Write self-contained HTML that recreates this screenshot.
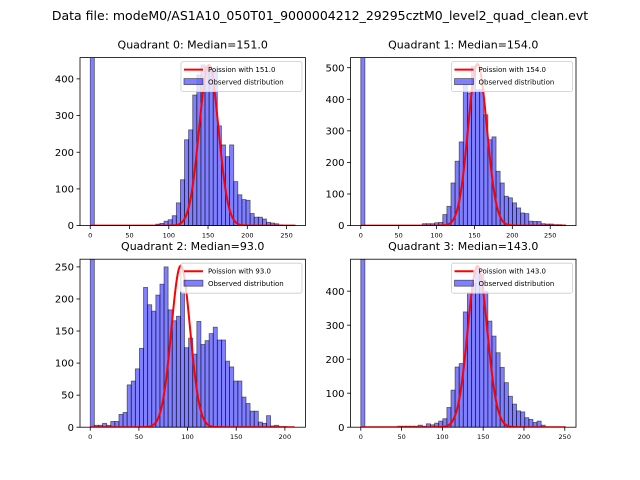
<!DOCTYPE html>
<html><head><meta charset="utf-8"><style>
body{margin:0;background:#fff;}
svg{display:block;font-family:"DejaVu Sans","Liberation Sans",sans-serif;}
</style></head><body>
<svg id="chart" width="640" height="480" viewBox="0 0 640 480">
<rect width="640" height="480" fill="#fff"/>
<text x="320" y="20" text-anchor="middle" font-size="12.5">Data file: modeM0/AS1A10_050T01_9000004212_29295cztM0_level2_quad_clean.evt</text>
</svg>
<script>
const titles=["Quadrant 0: Median=151.0","Quadrant 1: Median=154.0","Quadrant 2: Median=93.0","Quadrant 3: Median=143.0"];
const medians=[151,154,93,143];
const poissonPeaks=[438,512,252,474];
const xMaxes=[261,270.5,210.6,251.2];
const yMaxes=[458,532,262,494];
const xTicks=[[0,50,100,150,200,250],[0,50,100,150,200,250],[0,50,100,150,200],[0,50,100,150,200,250]];
const yTicks=[[0,100,200,300,400],[0,100,200,300,400,500],[0,50,100,150,200,250],[0,100,200,300,400]];
const counts0=[2000,0,0,0,0,0,0,0,0,0,0,0,0,0,0,0,4,6,12,16,27,62,125,234,261,356,411,438,433,424,424,272,220,188,220,120,84,71,69,33,23,23,18,9,7,5,2,1,1,1];
const counts1=[2000,0,0,0,0,0,0,0,0,0,0,0,0,0,0,6,6,6,9,10,35,61,135,204,265,446,420,504,430,430,351,272,281,172,135,93,88,72,56,40,38,14,13,13,6,5,5,3,3,2];
const counts2=[2000,3,3,6,3,9,9,20,23,66,72,91,123,218,191,181,206,223,250,183,166,173,211,124,139,114,165,129,135,146,156,136,136,103,94,72,72,47,37,25,25,8,6,18,2,3,1,1,0,0];
const counts3=[2000,0,0,0,0,0,0,0,0,3,3,3,3,3,6,3,10,7,12,18,25,58,109,177,187,339,395,423,470,450,399,312,268,219,176,131,91,68,48,45,28,23,14,18,6,1,0,0,0,0];
const allCounts=[counts0,counts1,counts2,counts3];

const NS="http://www.w3.org/2000/svg";
const svg=document.getElementById('chart');
function mk(tag,attrs,parent){const e=document.createElementNS(NS,tag);for(const k in attrs)e.setAttribute(k,attrs[k]);(parent||svg).appendChild(e);return e;}
const AW=225.45,AH=168;
const lefts=[80,350.55,80,350.55],tops=[57.6,57.6,259.2,259.2];

for(let q=0;q<4;q++){
  const L=lefts[q],T=tops[q],B=T+AH;
  const xmax=xMaxes[q],ymax=yMaxes[q],cnt=allCounts[q];
  const xmin=-0.05*xmax, xhi=1.05*xmax;
  const xs=v=>L+(v-xmin)/(xhi-xmin)*AW;
  const ys=v=>B-v/ymax*AH;
  const g=mk('g',{});
  
  
  const cid='clip'+q;
  const cp=mk('clipPath',{id:cid},g);mk('rect',{x:L,y:T,width:AW,height:AH},cp);
  const bars=mk('g',{'clip-path':'url(#'+cid+')'},g);
  const bw=xmax/cnt.length;
  cnt.forEach((c,i)=>{
    if(c<=0)return;
    const r=mk('rect',{x:xs(i*bw),y:ys(Math.min(c,ymax*1.1)),width:xs((i+1)*bw)-xs(i*bw),height:B-ys(Math.min(c,ymax*1.1)),fill:'rgba(0,0,255,0.5)',stroke:'rgba(0,0,0,0.55)','stroke-width':0.8},bars);
    
    
  });
  const mu=medians[q],pk=poissonPeaks[q];let d='';
  for(let x=0;x<=Math.floor(xmax);x++){const v=pk*Math.exp(-(x-mu)*(x-mu)/(2*mu));d+=(x?'L':'M')+xs(x).toFixed(2)+','+ys(v).toFixed(2);}
  const pl=mk('path',{d:d,fill:'none',stroke:'#ff0000','stroke-width':2},bars);
  
  
  const fr=mk('rect',{x:L,y:T,width:AW,height:AH,fill:'none',stroke:'#000','stroke-width':0.8},g);
  
  
  xTicks[q].forEach(t=>{
    mk('line',{x1:xs(t),x2:xs(t),y1:B,y2:B+3.5,stroke:'#000','stroke-width':0.8},g);
    const tx=mk('text',{x:xs(t),y:B+12,'text-anchor':'middle','font-size':6.5},g);tx.textContent=t;
    
    
  });
  yTicks[q].forEach(t=>{
    mk('line',{x1:L,x2:L-3.5,y1:ys(t),y2:ys(t),stroke:'#000','stroke-width':0.8},g);
    const tx=mk('text',{x:L-6,y:ys(t)+3.6,'text-anchor':'end','font-size':10},g);tx.textContent=t;
    
    
  });
  const tt=mk('text',{x:L+AW/2,y:T-9,'text-anchor':'middle','font-size':11},g);tt.textContent=titles[q];
  
  
  const lg=mk('g',{},g);
  
  
  const lx=L+AW-124.5,ly=T+4;
  mk('rect',{x:lx,y:ly,width:121,height:30,rx:2,fill:'rgba(255,255,255,0.8)',stroke:'#ccc','stroke-width':0.8},lg);
  mk('line',{x1:lx+3,x2:lx+22,y1:ly+8,y2:ly+8,stroke:'#ff0000','stroke-width':2},lg);
  const t1=mk('text',{x:lx+27,y:ly+10.5,'font-size':7},lg);t1.textContent='Poission with '+mu.toFixed(1);
  
  
  mk('rect',{x:lx+3,y:ly+17,width:19,height:6,fill:'rgba(0,0,255,0.5)',stroke:'rgba(0,0,0,0.55)','stroke-width':0.8},lg);
  const t2=mk('text',{x:lx+27,y:ly+23,'font-size':7},lg);t2.textContent='Observed distribution';
  
  
}
</script>
</body></html>
